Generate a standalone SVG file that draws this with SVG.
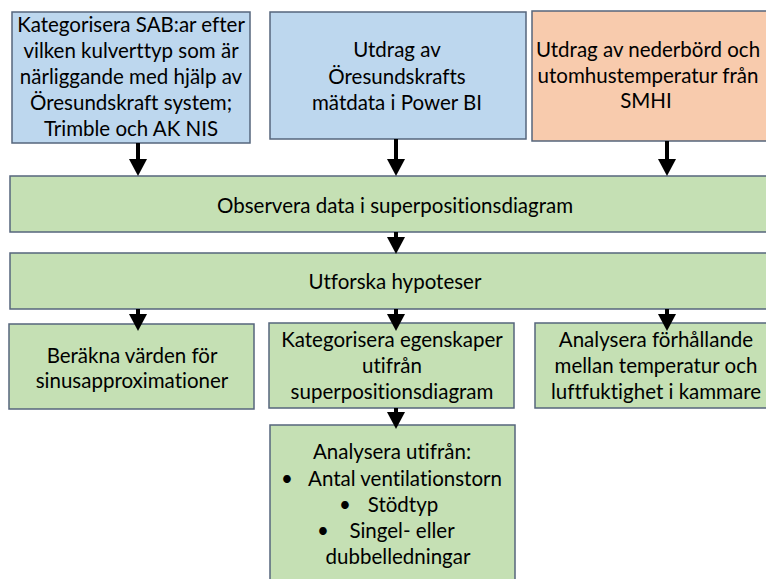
<svg xmlns="http://www.w3.org/2000/svg" width="766" height="579" viewBox="0 0 766 579">
<style>
.box{stroke:#56667c;stroke-width:1.5}
.blue{fill:#bdd7ee}
.orange{fill:#f8cbad}
.green{fill:#c5e0b4}
text{font-family:"Lato","Open Sans","Liberation Sans",sans-serif;font-size:20.5px;fill:#000;text-anchor:middle;font-variant-ligatures:none}
.con{stroke:#000;stroke-width:4;fill:none}
</style>
<defs>
<marker id="ah" markerUnits="userSpaceOnUse" markerWidth="17" markerHeight="18" refX="0" refY="9" orient="auto" viewBox="0 0 17 18">
<path d="M0,0 L17,9 L0,18 Z" fill="#000"/>
</marker>
</defs>
<rect width="766" height="579" fill="#fff"/>
<g id="n1"><rect class="box blue" x="12" y="12" width="238" height="131"/>
<text x="131" y="32">Kategorisera SAB:ar efter</text>
<text x="131" y="58">vilken kulverttyp som är</text>
<text x="131" y="84">närliggande med hjälp av</text>
<text x="131" y="110">Öresundskraft system;</text>
<text x="131" y="136">Trimble och AK NIS</text></g>
<g id="n2"><rect class="box blue" x="270" y="12" width="256" height="127"/>
<text x="397" y="57">Utdrag av</text>
<text x="397" y="84">Öresundskrafts</text>
<text x="397" y="110">mätdata i Power BI</text></g>
<g id="n3"><rect class="box orange" x="532" y="11" width="250" height="130"/>
<text x="648" y="57">Utdrag av nederbörd och</text>
<text x="648" y="83">utomhustemperatur från</text>
<text x="646" y="108">SMHI</text></g>
<g id="n4"><rect class="box green" x="10" y="176" width="770" height="56"/>
<text x="395" y="213">Observera data i superpositionsdiagram</text></g>
<g id="n5"><rect class="box green" x="10" y="253" width="770" height="56"/>
<text x="395" y="289">Utforska hypoteser</text></g>
<g id="n6"><rect class="box green" x="9" y="324" width="245" height="85"/>
<text x="132" y="363">Beräkna värden för</text>
<text x="132" y="388">sinusapproximationer</text></g>
<g id="n7"><rect class="box green" x="269" y="323" width="245" height="85"/>
<text x="392" y="347">Kategorisera egenskaper</text>
<text x="392" y="373">utifrån</text>
<text x="392" y="399">superpositionsdiagram</text></g>
<g id="n8"><rect class="box green" x="535" y="323" width="245" height="85"/>
<text x="656" y="347">Analysera förhållande</text>
<text x="656" y="373">mellan temperatur och</text>
<text x="656" y="399">luftfuktighet i kammare</text></g>
<g id="n9"><rect class="box green" x="270" y="425" width="245" height="160"/>
<text x="392" y="459">Analysera utifrån:</text>
<text x="287" y="486">•</text><text x="405" y="486">Antal ventilationstorn</text>
<text x="345" y="512">•</text><text x="403" y="512">Stödtyp</text>
<text x="323" y="538">•</text><text x="402" y="538">Singel- eller</text>
<text x="398" y="564">dubbelledningar</text></g>
<g id="connectors">
<line class="con" x1="138" y1="143" x2="138" y2="159" marker-end="url(#ah)"/>
<line class="con" x1="396" y1="139" x2="396" y2="159" marker-end="url(#ah)"/>
<line class="con" x1="667" y1="141" x2="667" y2="159" marker-end="url(#ah)"/>
<line class="con" x1="396" y1="232" x2="396" y2="237" marker-end="url(#ah)"/>
<line class="con" x1="138" y1="309" x2="138" y2="314" marker-end="url(#ah)"/>
<line class="con" x1="396" y1="309" x2="396" y2="314" marker-end="url(#ah)"/>
<line class="con" x1="667" y1="309" x2="667" y2="314" marker-end="url(#ah)"/>
<line class="con" x1="396" y1="408" x2="396" y2="412" marker-end="url(#ah)"/>
</g>
</svg>
